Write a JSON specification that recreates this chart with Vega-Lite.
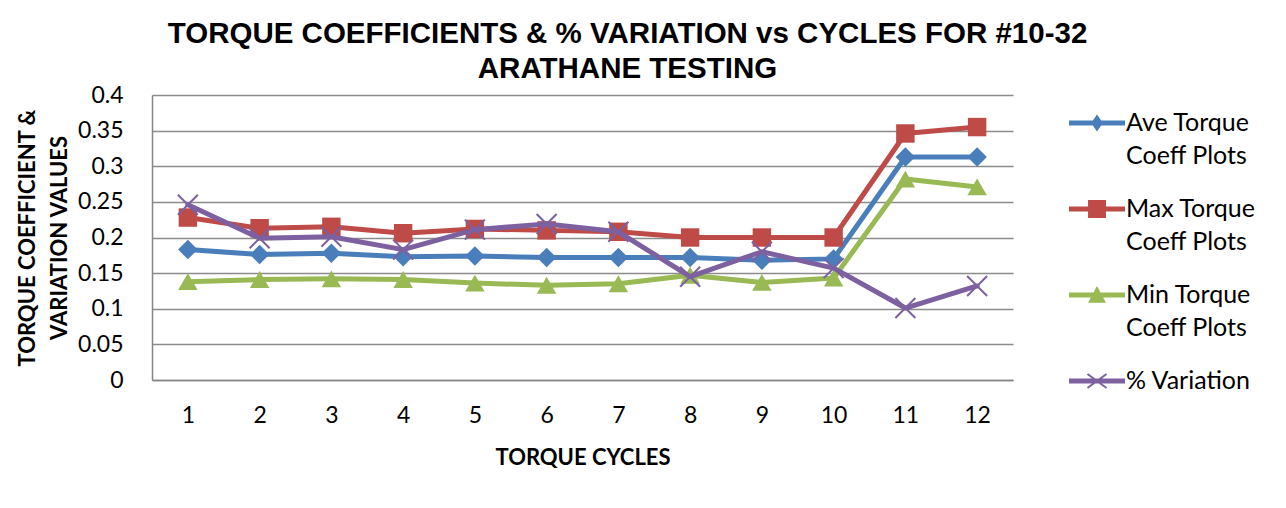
{
  "$schema": "https://vega.github.io/schema/vega-lite/v6.json",
  "width": 861,
  "height": 285,
  "autosize": {"type": "none"},
  "padding": {"left": 152, "top": 95, "right": 273, "bottom": 128},
  "background": "white",
  "title": {
    "text": ["TORQUE COEFFICIENTS & % VARIATION vs CYCLES FOR #10-32", "ARATHANE TESTING"],
    "font": "Liberation Sans",
    "fontSize": 29.5,
    "fontWeight": "bold",
    "color": "black",
    "anchor": "middle",
    "frame": "group",
    "dx": 45,
    "offset": 0,
    "lineHeight": 35
  },
  "config": {
    "view": {"stroke": null},
    "style": {"guide-label": {"lineHeight": 33}},
    "axis": {
      "domainColor": "#868686",
      "domainWidth": 1.5,
      "gridColor": "#8c8c8c",
      "gridWidth": 1.5,
      "ticks": false,
      "labelFont": "Lato",
      "labelFontSize": 23,
      "labelColor": "black",
      "titleFont": "Lato",
      "titleFontSize": 22,
      "titleFontWeight": "bold",
      "titleColor": "black"
    },
    "legend": {
      "labelFont": "Lato",
      "labelFontSize": 25,
      "labelColor": "black"
    }
  },
  "data": {
    "values": [
      {"cycle": 1, "series": "Ave Torque Coeff Plots", "value": 0.183},
      {"cycle": 2, "series": "Ave Torque Coeff Plots", "value": 0.176},
      {"cycle": 3, "series": "Ave Torque Coeff Plots", "value": 0.178},
      {"cycle": 4, "series": "Ave Torque Coeff Plots", "value": 0.173},
      {"cycle": 5, "series": "Ave Torque Coeff Plots", "value": 0.174},
      {"cycle": 6, "series": "Ave Torque Coeff Plots", "value": 0.172},
      {"cycle": 7, "series": "Ave Torque Coeff Plots", "value": 0.172},
      {"cycle": 8, "series": "Ave Torque Coeff Plots", "value": 0.172},
      {"cycle": 9, "series": "Ave Torque Coeff Plots", "value": 0.168},
      {"cycle": 10, "series": "Ave Torque Coeff Plots", "value": 0.170},
      {"cycle": 11, "series": "Ave Torque Coeff Plots", "value": 0.313},
      {"cycle": 12, "series": "Ave Torque Coeff Plots", "value": 0.313},
      {"cycle": 1, "series": "Max Torque Coeff Plots", "value": 0.228},
      {"cycle": 2, "series": "Max Torque Coeff Plots", "value": 0.213},
      {"cycle": 3, "series": "Max Torque Coeff Plots", "value": 0.215},
      {"cycle": 4, "series": "Max Torque Coeff Plots", "value": 0.206},
      {"cycle": 5, "series": "Max Torque Coeff Plots", "value": 0.212},
      {"cycle": 6, "series": "Max Torque Coeff Plots", "value": 0.210},
      {"cycle": 7, "series": "Max Torque Coeff Plots", "value": 0.208},
      {"cycle": 8, "series": "Max Torque Coeff Plots", "value": 0.200},
      {"cycle": 9, "series": "Max Torque Coeff Plots", "value": 0.200},
      {"cycle": 10, "series": "Max Torque Coeff Plots", "value": 0.200},
      {"cycle": 11, "series": "Max Torque Coeff Plots", "value": 0.346},
      {"cycle": 12, "series": "Max Torque Coeff Plots", "value": 0.355},
      {"cycle": 1, "series": "Min Torque Coeff Plots", "value": 0.138},
      {"cycle": 2, "series": "Min Torque Coeff Plots", "value": 0.141},
      {"cycle": 3, "series": "Min Torque Coeff Plots", "value": 0.142},
      {"cycle": 4, "series": "Min Torque Coeff Plots", "value": 0.141},
      {"cycle": 5, "series": "Min Torque Coeff Plots", "value": 0.136},
      {"cycle": 6, "series": "Min Torque Coeff Plots", "value": 0.133},
      {"cycle": 7, "series": "Min Torque Coeff Plots", "value": 0.135},
      {"cycle": 8, "series": "Min Torque Coeff Plots", "value": 0.147},
      {"cycle": 9, "series": "Min Torque Coeff Plots", "value": 0.137},
      {"cycle": 10, "series": "Min Torque Coeff Plots", "value": 0.143},
      {"cycle": 11, "series": "Min Torque Coeff Plots", "value": 0.282},
      {"cycle": 12, "series": "Min Torque Coeff Plots", "value": 0.271},
      {"cycle": 1, "series": "% Variation", "value": 0.246},
      {"cycle": 2, "series": "% Variation", "value": 0.199},
      {"cycle": 3, "series": "% Variation", "value": 0.201},
      {"cycle": 4, "series": "% Variation", "value": 0.183},
      {"cycle": 5, "series": "% Variation", "value": 0.211},
      {"cycle": 6, "series": "% Variation", "value": 0.219},
      {"cycle": 7, "series": "% Variation", "value": 0.208},
      {"cycle": 8, "series": "% Variation", "value": 0.145},
      {"cycle": 9, "series": "% Variation", "value": 0.180},
      {"cycle": 10, "series": "% Variation", "value": 0.157},
      {"cycle": 11, "series": "% Variation", "value": 0.101},
      {"cycle": 12, "series": "% Variation", "value": 0.132}
    ]
  },
  "encoding": {
    "x": {
      "field": "cycle",
      "type": "ordinal",
      "scale": {"type": "point", "padding": 0.5},
      "axis": {
        "labelAngle": 0,
        "labelPadding": 24,
        "title": "TORQUE CYCLES",
        "titlePadding": 20,
        "grid": false
      }
    },
    "y": {
      "field": "value",
      "type": "quantitative",
      "scale": {"domain": [0, 0.4], "nice": false},
      "axis": {
        "values": [0, 0.05, 0.1, 0.15, 0.2, 0.25, 0.3, 0.35, 0.4],
        "format": ".2~f",
        "labelPadding": 29,
        "title": ["TORQUE COEFFICIENT &", "VARIATION VALUES"],
        "titlePadding": 6,
        "titleLineHeight": 32
      }
    }
  },
  "layer": [
    {
      "transform": [{"filter": "datum.series == 'Ave Torque Coeff Plots'"}],
      "mark": {"type": "line", "color": "#4A7EBB", "strokeWidth": 5, "strokeJoin": "round", "strokeCap": "round"}
    },
    {
      "transform": [{"filter": "datum.series == 'Ave Torque Coeff Plots'"}],
      "mark": {"type": "point", "shape": "diamond", "filled": true, "opacity": 1, "color": "#4A7EBB", "size": 380}
    },
    {
      "transform": [{"filter": "datum.series == 'Max Torque Coeff Plots'"}],
      "mark": {"type": "line", "color": "#BE4B48", "strokeWidth": 5, "strokeJoin": "round", "strokeCap": "round"}
    },
    {
      "transform": [{"filter": "datum.series == 'Max Torque Coeff Plots'"}],
      "mark": {"type": "point", "shape": "square", "filled": true, "opacity": 1, "color": "#BE4B48", "size": 340}
    },
    {
      "transform": [{"filter": "datum.series == 'Min Torque Coeff Plots'"}],
      "mark": {"type": "line", "color": "#98B954", "strokeWidth": 5, "strokeJoin": "round", "strokeCap": "round"}
    },
    {
      "transform": [{"filter": "datum.series == 'Min Torque Coeff Plots'"}],
      "mark": {"type": "point", "shape": "triangle-up", "filled": true, "opacity": 1, "color": "#98B954", "size": 380}
    },
    {
      "transform": [{"filter": "datum.series == '% Variation'"}],
      "mark": {"type": "line", "color": "#7D60A0", "strokeWidth": 5, "strokeJoin": "round", "strokeCap": "round"}
    },
    {
      "transform": [{"filter": "datum.series == '% Variation'"}],
      "mark": {"type": "point", "shape": "M-1,-1L1,1M-1,1L1,-1", "filled": false, "opacity": 1, "color": "#7D60A0", "strokeWidth": 2, "size": 400}
    },
    {
      "transform": [{"filter": "datum.cycle > 1000"}],
      "mark": {"type": "point", "filled": true, "opacity": 1},
      "encoding": {
        "color": {
          "field": "series",
          "type": "nominal",
          "scale": {
            "domain": ["Ave Torque Coeff Plots", "Max Torque Coeff Plots", "Min Torque Coeff Plots", "% Variation"],
            "range": ["#4A7EBB", "#BE4B48", "#98B954", "#7D60A0"]
          },
          "legend": {
            "title": null,
            "orient": "right",
            "offset": 56,
            "padding": 0,
            "symbolSize": 3136,
            "symbolStrokeWidth": 0,
            "labelOffset": 1,
            "rowPadding": 12,
            "labelBaseline": "middle",
            "labelExpr": "datum.label == '% Variation' ? datum.label : [slice(datum.label, 0, indexof(datum.label, ' Coeff')), 'Coeff Plots']"
          }
        },
        "shape": {
          "field": "series",
          "type": "nominal",
          "scale": {
            "domain": ["Ave Torque Coeff Plots", "Max Torque Coeff Plots", "Min Torque Coeff Plots", "% Variation"],
            "range": [
              "M-1,-0.089H1V0.089H-1ZM0,-0.3L0.21,0L0,0.3L-0.21,0Z",
              "M-1,-0.089H1V0.089H-1ZM-0.32,-0.32H0.32V0.32H-0.32Z",
              "M-1,-0.089H1V0.089H-1ZM0,-0.32L0.32,0.28H-0.32Z",
              "M-1,-0.089H1V0.089H-1ZM-0.319,-0.278L0.361,0.222L0.319,0.278L-0.361,-0.222ZM-0.361,0.222L0.319,-0.278L0.361,-0.222L-0.319,0.278Z"
            ]
          },
          "legend": {
            "title": null,
            "orient": "right",
            "offset": 56,
            "padding": 0,
            "symbolSize": 3136,
            "symbolStrokeWidth": 0,
            "labelOffset": 1,
            "rowPadding": 12,
            "labelBaseline": "middle",
            "labelExpr": "datum.label == '% Variation' ? datum.label : [slice(datum.label, 0, indexof(datum.label, ' Coeff')), 'Coeff Plots']"
          }
        }
      }
    }
  ]
}
